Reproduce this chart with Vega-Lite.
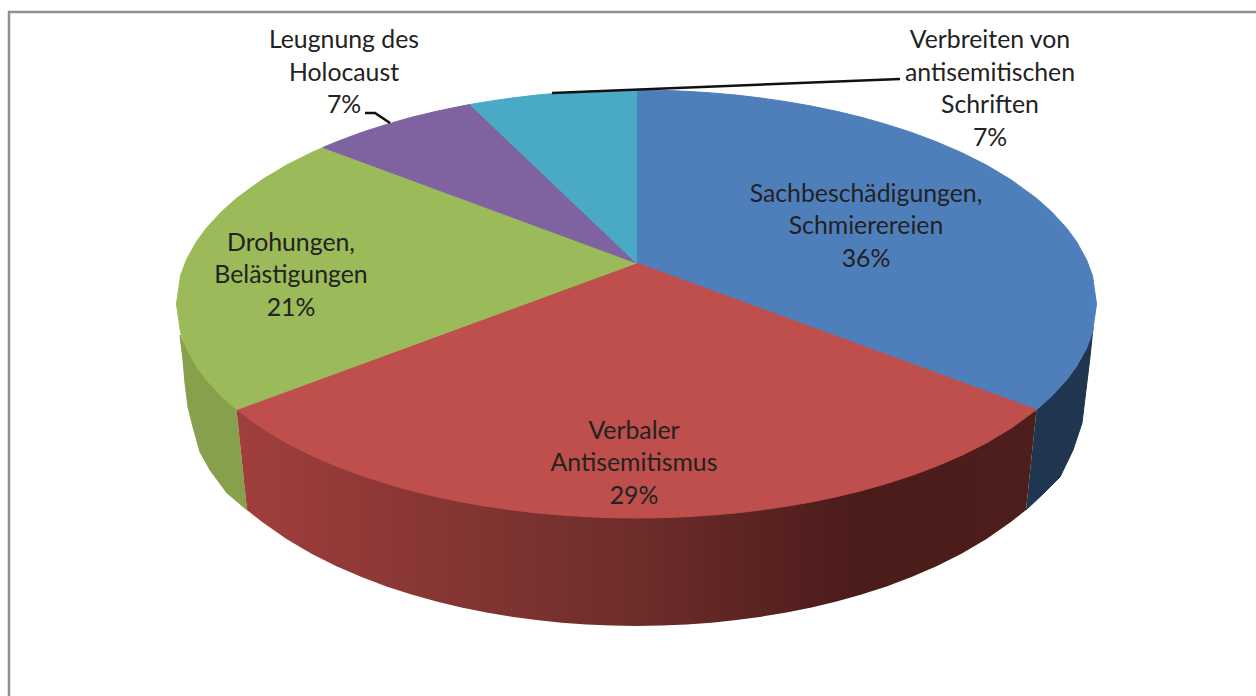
{"$schema":"https://vega.github.io/schema/vega-lite/v6.json","width":1256,"height":696,"padding":0,"autosize":{"type":"none"},"background":"#ffffff","config":{"view":{"stroke":null}},
"datasets":{"outlines":[
{"part":"Seite Sachbeschädigungen","i":0,"x":1036.5,"y":409.7},{"part":"Seite Sachbeschädigungen","i":1,"x":1051.5,"y":396.3},{"part":"Seite Sachbeschädigungen","i":2,"x":1066.5,"y":380},{"part":"Seite Sachbeschädigungen","i":3,"x":1076.5,"y":366.4},{"part":"Seite Sachbeschädigungen","i":4,"x":1086.5,"y":348.4},{"part":"Seite Sachbeschädigungen","i":5,"x":1093,"y":328},{"part":"Seite Sachbeschädigungen","i":6,"x":1090,"y":357},{"part":"Seite Sachbeschädigungen","i":7,"x":1086,"y":390},{"part":"Seite Sachbeschädigungen","i":8,"x":1082,"y":423},{"part":"Seite Sachbeschädigungen","i":9,"x":1073,"y":450},{"part":"Seite Sachbeschädigungen","i":10,"x":1060,"y":477},{"part":"Seite Sachbeschädigungen","i":11,"x":1043,"y":494},{"part":"Seite Sachbeschädigungen","i":12,"x":1026,"y":510},
{"part":"Seite Drohungen","i":0,"x":236.5,"y":409.7},{"part":"Seite Drohungen","i":1,"x":221.5,"y":396.3},{"part":"Seite Drohungen","i":2,"x":206.5,"y":380},{"part":"Seite Drohungen","i":3,"x":196.5,"y":366.4},{"part":"Seite Drohungen","i":4,"x":186.5,"y":348.4},{"part":"Seite Drohungen","i":5,"x":180,"y":335},{"part":"Seite Drohungen","i":6,"x":183,"y":360},{"part":"Seite Drohungen","i":7,"x":185,"y":383},{"part":"Seite Drohungen","i":8,"x":188,"y":407},{"part":"Seite Drohungen","i":9,"x":193,"y":427},{"part":"Seite Drohungen","i":10,"x":200,"y":452},{"part":"Seite Drohungen","i":11,"x":210,"y":470},{"part":"Seite Drohungen","i":12,"x":227,"y":493},{"part":"Seite Drohungen","i":13,"x":247,"y":510},
{"part":"Seite Verbaler","i":0,"x":236.5,"y":409.7},{"part":"Seite Verbaler","i":1,"x":247,"y":510},{"part":"Seite Verbaler","i":2,"x":261.5,"y":521.5},{"part":"Seite Verbaler","i":3,"x":286.5,"y":539},{"part":"Seite Verbaler","i":4,"x":311.5,"y":553.7},{"part":"Seite Verbaler","i":5,"x":336.5,"y":566.2},{"part":"Seite Verbaler","i":6,"x":361.5,"y":577},{"part":"Seite Verbaler","i":7,"x":386.5,"y":586.4},{"part":"Seite Verbaler","i":8,"x":411.5,"y":594.5},{"part":"Seite Verbaler","i":9,"x":436.5,"y":601.5},{"part":"Seite Verbaler","i":10,"x":461.5,"y":607.5},{"part":"Seite Verbaler","i":11,"x":486.5,"y":612.5},{"part":"Seite Verbaler","i":12,"x":511.5,"y":616.7},{"part":"Seite Verbaler","i":13,"x":536.5,"y":620.1},{"part":"Seite Verbaler","i":14,"x":561.5,"y":622.7},{"part":"Seite Verbaler","i":15,"x":586.5,"y":624.5},{"part":"Seite Verbaler","i":16,"x":611.5,"y":625.6},{"part":"Seite Verbaler","i":17,"x":636.5,"y":626},{"part":"Seite Verbaler","i":18,"x":661.5,"y":625.6},{"part":"Seite Verbaler","i":19,"x":686.5,"y":624.5},{"part":"Seite Verbaler","i":20,"x":711.5,"y":622.7},{"part":"Seite Verbaler","i":21,"x":736.5,"y":620.1},{"part":"Seite Verbaler","i":22,"x":761.5,"y":616.7},{"part":"Seite Verbaler","i":23,"x":786.5,"y":612.5},{"part":"Seite Verbaler","i":24,"x":811.5,"y":607.5},{"part":"Seite Verbaler","i":25,"x":836.5,"y":601.5},{"part":"Seite Verbaler","i":26,"x":861.5,"y":594.5},{"part":"Seite Verbaler","i":27,"x":886.5,"y":586.4},{"part":"Seite Verbaler","i":28,"x":911.5,"y":577},{"part":"Seite Verbaler","i":29,"x":936.5,"y":566.2},{"part":"Seite Verbaler","i":30,"x":961.5,"y":553.7},{"part":"Seite Verbaler","i":31,"x":986.5,"y":539},{"part":"Seite Verbaler","i":32,"x":1011.5,"y":521.5},{"part":"Seite Verbaler","i":33,"x":1026,"y":510},{"part":"Seite Verbaler","i":34,"x":1036.5,"y":409.7},
{"part":"Sachbeschädigungen","i":0,"x":636.5,"y":263},{"part":"Sachbeschädigungen","i":1,"x":636.5,"y":90},{"part":"Sachbeschädigungen","i":2,"x":661.5,"y":90.3},{"part":"Sachbeschädigungen","i":3,"x":686.5,"y":91.3},{"part":"Sachbeschädigungen","i":4,"x":711.5,"y":92.9},{"part":"Sachbeschädigungen","i":5,"x":736.5,"y":95.1},{"part":"Sachbeschädigungen","i":6,"x":761.5,"y":98.1},{"part":"Sachbeschädigungen","i":7,"x":786.5,"y":101.7},{"part":"Sachbeschädigungen","i":8,"x":811.5,"y":106.1},{"part":"Sachbeschädigungen","i":9,"x":836.5,"y":111.3},{"part":"Sachbeschädigungen","i":10,"x":861.5,"y":117.3},{"part":"Sachbeschädigungen","i":11,"x":886.5,"y":124.4},{"part":"Sachbeschädigungen","i":12,"x":911.5,"y":132.4},{"part":"Sachbeschädigungen","i":13,"x":936.5,"y":141.8},{"part":"Sachbeschädigungen","i":14,"x":961.5,"y":152.6},{"part":"Sachbeschädigungen","i":15,"x":986.5,"y":165.1},{"part":"Sachbeschädigungen","i":16,"x":1011.5,"y":180.1},{"part":"Sachbeschädigungen","i":17,"x":1036.5,"y":198.3},{"part":"Sachbeschädigungen","i":18,"x":1051.5,"y":211.7},{"part":"Sachbeschädigungen","i":19,"x":1066.5,"y":228},{"part":"Sachbeschädigungen","i":20,"x":1076.5,"y":241.6},{"part":"Sachbeschädigungen","i":21,"x":1086.5,"y":259.6},{"part":"Sachbeschädigungen","i":22,"x":1092.5,"y":275.8},{"part":"Sachbeschädigungen","i":23,"x":1096.5,"y":304},{"part":"Sachbeschädigungen","i":24,"x":1092.5,"y":332.2},{"part":"Sachbeschädigungen","i":25,"x":1086.5,"y":348.4},{"part":"Sachbeschädigungen","i":26,"x":1076.5,"y":366.4},{"part":"Sachbeschädigungen","i":27,"x":1066.5,"y":380},{"part":"Sachbeschädigungen","i":28,"x":1051.5,"y":396.3},{"part":"Sachbeschädigungen","i":29,"x":1036.5,"y":409.7},{"part":"Sachbeschädigungen","i":30,"x":636.5,"y":263},
{"part":"Verbaler","i":0,"x":636.5,"y":263},{"part":"Verbaler","i":1,"x":1036.5,"y":409.7},{"part":"Verbaler","i":2,"x":1011.5,"y":427.9},{"part":"Verbaler","i":3,"x":986.5,"y":442.9},{"part":"Verbaler","i":4,"x":961.5,"y":455.4},{"part":"Verbaler","i":5,"x":936.5,"y":466.2},{"part":"Verbaler","i":6,"x":911.5,"y":475.6},{"part":"Verbaler","i":7,"x":886.5,"y":483.6},{"part":"Verbaler","i":8,"x":861.5,"y":490.7},{"part":"Verbaler","i":9,"x":836.5,"y":496.7},{"part":"Verbaler","i":10,"x":811.5,"y":501.9},{"part":"Verbaler","i":11,"x":786.5,"y":506.3},{"part":"Verbaler","i":12,"x":761.5,"y":509.9},{"part":"Verbaler","i":13,"x":736.5,"y":512.9},{"part":"Verbaler","i":14,"x":711.5,"y":515.1},{"part":"Verbaler","i":15,"x":686.5,"y":516.7},{"part":"Verbaler","i":16,"x":661.5,"y":517.7},{"part":"Verbaler","i":17,"x":636.5,"y":518},{"part":"Verbaler","i":18,"x":611.5,"y":517.7},{"part":"Verbaler","i":19,"x":586.5,"y":516.7},{"part":"Verbaler","i":20,"x":561.5,"y":515.1},{"part":"Verbaler","i":21,"x":536.5,"y":512.9},{"part":"Verbaler","i":22,"x":511.5,"y":509.9},{"part":"Verbaler","i":23,"x":486.5,"y":506.3},{"part":"Verbaler","i":24,"x":461.5,"y":501.9},{"part":"Verbaler","i":25,"x":436.5,"y":496.7},{"part":"Verbaler","i":26,"x":411.5,"y":490.7},{"part":"Verbaler","i":27,"x":386.5,"y":483.6},{"part":"Verbaler","i":28,"x":361.5,"y":475.6},{"part":"Verbaler","i":29,"x":336.5,"y":466.2},{"part":"Verbaler","i":30,"x":311.5,"y":455.4},{"part":"Verbaler","i":31,"x":286.5,"y":442.9},{"part":"Verbaler","i":32,"x":261.5,"y":427.9},{"part":"Verbaler","i":33,"x":236.5,"y":409.7},{"part":"Verbaler","i":34,"x":636.5,"y":263},
{"part":"Drohungen","i":0,"x":636.5,"y":263},{"part":"Drohungen","i":1,"x":236.5,"y":409.7},{"part":"Drohungen","i":2,"x":221.5,"y":396.3},{"part":"Drohungen","i":3,"x":206.5,"y":380},{"part":"Drohungen","i":4,"x":196.5,"y":366.4},{"part":"Drohungen","i":5,"x":186.5,"y":348.4},{"part":"Drohungen","i":6,"x":180.5,"y":332.2},{"part":"Drohungen","i":7,"x":176.5,"y":304},{"part":"Drohungen","i":8,"x":180.5,"y":275.8},{"part":"Drohungen","i":9,"x":186.5,"y":259.6},{"part":"Drohungen","i":10,"x":196.5,"y":241.6},{"part":"Drohungen","i":11,"x":206.5,"y":228},{"part":"Drohungen","i":12,"x":221.5,"y":211.7},{"part":"Drohungen","i":13,"x":236.5,"y":198.3},{"part":"Drohungen","i":14,"x":261.5,"y":180.1},{"part":"Drohungen","i":15,"x":286.5,"y":165.1},{"part":"Drohungen","i":16,"x":311.5,"y":152.6},{"part":"Drohungen","i":17,"x":323,"y":147.4},{"part":"Drohungen","i":18,"x":636.5,"y":263},
{"part":"Leugnung","i":0,"x":636.5,"y":263},{"part":"Leugnung","i":1,"x":323,"y":147.4},{"part":"Leugnung","i":2,"x":336.5,"y":141.8},{"part":"Leugnung","i":3,"x":361.5,"y":132.4},{"part":"Leugnung","i":4,"x":386.5,"y":124.4},{"part":"Leugnung","i":5,"x":411.5,"y":117.3},{"part":"Leugnung","i":6,"x":436.5,"y":111.3},{"part":"Leugnung","i":7,"x":461.5,"y":106.1},{"part":"Leugnung","i":8,"x":470,"y":104.5},{"part":"Leugnung","i":9,"x":636.5,"y":263},
{"part":"Verbreiten","i":0,"x":636.5,"y":263},{"part":"Verbreiten","i":1,"x":470,"y":104.5},{"part":"Verbreiten","i":2,"x":486.5,"y":101.7},{"part":"Verbreiten","i":3,"x":511.5,"y":98.1},{"part":"Verbreiten","i":4,"x":536.5,"y":95.1},{"part":"Verbreiten","i":5,"x":561.5,"y":92.9},{"part":"Verbreiten","i":6,"x":586.5,"y":91.3},{"part":"Verbreiten","i":7,"x":611.5,"y":90.3},{"part":"Verbreiten","i":8,"x":636.5,"y":90},{"part":"Verbreiten","i":9,"x":636.5,"y":263},
{"part":"Rahmen","i":0,"x":9,"y":696},{"part":"Rahmen","i":1,"x":9,"y":12},{"part":"Rahmen","i":2,"x":1256,"y":12},
{"part":"Linie Leugnung","i":0,"x":365,"y":113},{"part":"Linie Leugnung","i":1,"x":375,"y":113},{"part":"Linie Leugnung","i":2,"x":390,"y":123},
{"part":"Linie Verbreiten","i":0,"x":552,"y":93},{"part":"Linie Verbreiten","i":1,"x":900,"y":79}
],
"labels":[
{"label":"Sachbeschädigungen,\nSchmierereien\n36%","x":866,"y":194.5},
{"label":"Verbaler\nAntisemitismus\n29%","x":634,"y":431.5},
{"label":"Drohungen,\nBelästigungen\n21%","x":291,"y":243.5},
{"label":"Leugnung des\nHolocaust\n7%","x":344,"y":41},
{"label":"Verbreiten von\nantisemitischen\nSchriften\n7%","x":990,"y":41}
]},
"encoding":{"x":{"field":"x","type":"quantitative","scale":{"domain":[0,1256],"nice":false,"zero":false},"axis":null},"y":{"field":"y","type":"quantitative","scale":{"domain":[696,0],"nice":false,"zero":false},"axis":null},"order":{"field":"i","type":"ordinal"}},
"layer":[
{"data":{"name":"outlines"},"transform":[{"filter":"datum.part==='Rahmen'"}],"mark":{"type":"line","stroke":"#8f8f8f","strokeWidth":2.5}},
{"data":{"name":"outlines"},"transform":[{"filter":"datum.part==='Seite Sachbeschädigungen'"}],"mark":{"type":"line","fill":"#1f3550","stroke":"#1f3550","strokeWidth":1}},
{"data":{"name":"outlines"},"transform":[{"filter":"datum.part==='Seite Drohungen'"}],"mark":{"type":"line","fill":"#86a04b","stroke":"#86a04b","strokeWidth":1}},
{"data":{"name":"outlines"},"transform":[{"filter":"datum.part==='Seite Verbaler'"}],"mark":{"type":"line","strokeWidth":0,"fill":{"gradient":"linear","x1":0,"y1":0,"x2":1,"y2":0,"stops":[{"offset":0,"color":"#a03f3d"},{"offset":0.5,"color":"#6d2d2b"},{"offset":0.78,"color":"#4b1b1a"},{"offset":1,"color":"#4e1e1c"}]}}},
{"data":{"name":"outlines"},"transform":[{"filter":"datum.part==='Sachbeschädigungen'"}],"mark":{"type":"line","fill":"#4f7fbb","stroke":"#4f7fbb","strokeWidth":1}},
{"data":{"name":"outlines"},"transform":[{"filter":"datum.part==='Verbaler'"}],"mark":{"type":"line","fill":"#be4f4c","stroke":"#be4f4c","strokeWidth":1}},
{"data":{"name":"outlines"},"transform":[{"filter":"datum.part==='Drohungen'"}],"mark":{"type":"line","fill":"#9bba59","stroke":"#9bba59","strokeWidth":1}},
{"data":{"name":"outlines"},"transform":[{"filter":"datum.part==='Leugnung'"}],"mark":{"type":"line","fill":"#7f63a1","stroke":"#7f63a1","strokeWidth":1}},
{"data":{"name":"outlines"},"transform":[{"filter":"datum.part==='Verbreiten'"}],"mark":{"type":"line","fill":"#4aa9c4","stroke":"#4aa9c4","strokeWidth":1}},
{"data":{"name":"outlines"},"transform":[{"filter":"datum.part==='Linie Leugnung'||datum.part==='Linie Verbreiten'"}],"mark":{"type":"line","stroke":"#111111","strokeWidth":2.6},"encoding":{"detail":{"field":"part"}}},
{"data":{"name":"labels"},"mark":{"type":"text","font":"Lato","fontSize":24.8,"lineHeight":32.5,"lineBreak":"\n","align":"center","baseline":"middle","fill":"#222222"},"encoding":{"text":{"field":"label"},"order":{"value":null}}}
]}
